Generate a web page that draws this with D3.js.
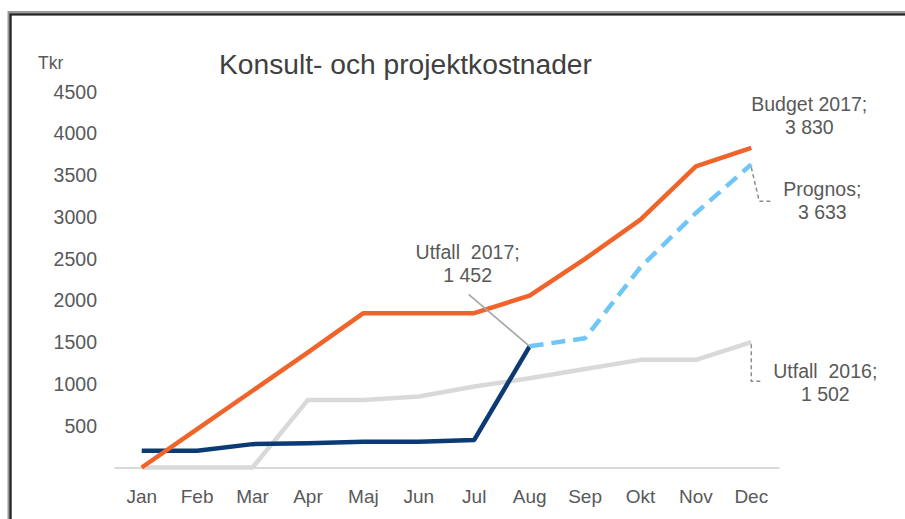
<!DOCTYPE html>
<html>
<head>
<meta charset="utf-8">
<script src="https://cdn.jsdelivr.net/npm/d3@7"></script>
<style>
  body { margin: 0; background: #fff; }
  svg { display: block; font-family: "Liberation Sans", Arial, sans-serif; }
  text { white-space: pre; }
</style>
</head>
<body>
<div id="chart"></div>
<script>
// data (Tkr)
const months = ['Jan', 'Feb', 'Mar', 'Apr', 'Maj', 'Jun', 'Jul', 'Aug', 'Sep', 'Okt', 'Nov', 'Dec'];
const utfall2016 = [0, 0, 0, 810, 810, 850, 970, 1070, 1180, 1290, 1290, 1502];
const budget2017 = [0, 460, 920, 1380, 1850, 1850, 1850, 2060, 2500, 2970, 3610, 3830];
const utfall2017 = [200, 200, 280, 290, 310, 310, 330, 1452];        // Jan..Aug
const prognos = [null, null, null, null, null, null, null, 1452, 1550, 2400, 3050, 3633];
const yTicks = [500, 1000, 1500, 2000, 2500, 3000, 3500, 4000, 4500];

const title = 'Konsult- och projektkostnader';
const unit = 'Tkr';

const width = 905;
const height = 519;

const svg = d3.select('#chart').append('svg')
  .attr('width', width)
  .attr('height', height);

// frame (cut off on the right and bottom like the screenshot)
svg.append('rect')
  .attr('x', 9.5).attr('y', 13)
  .attr('width', 1000).attr('height', 1000)
  .attr('fill', 'none')
  .attr('stroke', '#9a9a9a')
  .attr('stroke-width', 4);
svg.append('rect')
  .attr('x', 10.5).attr('y', 14.5)
  .attr('width', 1000).attr('height', 1000)
  .attr('fill', 'none')
  .attr('stroke', '#262626')
  .attr('stroke-width', 2.2);

// scales
const x = d3.scaleBand()
  .domain(months)
  .range([114, 779])
  .paddingInner(0)
  .paddingOuter(0);
const cx = (m) => x(m) + x.bandwidth() / 2;

const y = d3.scaleLinear()
  .domain([0, 4500])
  .range([467.5, 92]);

// title + unit
svg.append('text')
  .attr('x', 219).attr('y', 74)
  .attr('font-size', 28.2)
  .attr('fill', '#404040')
  .text(title);

svg.append('text')
  .attr('x', 38).attr('y', 69)
  .attr('font-size', 17.5)
  .attr('fill', '#595959')
  .text(unit);

// y axis (labels only)
const yAxis = svg.append('g')
  .attr('transform', 'translate(97,0)')
  .call(d3.axisLeft(y).tickValues(yTicks).tickSize(0).tickPadding(0).tickFormat(d3.format('d')));
yAxis.select('.domain').remove();
yAxis.selectAll('text')
  .attr('font-size', 19.5)
  .attr('font-family', '"Liberation Sans", Arial, sans-serif')
  .attr('fill', '#595959');

// x axis
const xAxis = svg.append('g')
  .attr('transform', `translate(0,${y(0)})`)
  .call(d3.axisBottom(x).tickSize(0).tickPadding(22));
xAxis.select('.domain')
  .attr('stroke', '#d9d9d9')
  .attr('stroke-width', 2);
xAxis.selectAll('text')
  .attr('font-size', 19)
  .attr('font-family', '"Liberation Sans", Arial, sans-serif')
  .attr('fill', '#595959');

// lines
const line = d3.line()
  .defined((d) => d != null)
  .x((d, i) => cx(months[i]))
  .y((d) => y(d));

function drawLine(values, color, dash) {
  svg.append('path')
    .datum(values)
    .attr('fill', 'none')
    .attr('stroke', color)
    .attr('stroke-width', 4.5)
    .attr('stroke-linejoin', 'round')
    .attr('stroke-dasharray', dash || null)
    .attr('d', line);
}

drawLine(utfall2016, '#d9d9d9');
drawLine(utfall2017, '#0b3a75');
drawLine(budget2017, '#f0642a');
drawLine(prognos, '#70c6f8', '14,8');

// data labels
function label(lines, px, py) {
  const t = svg.append('text')
    .attr('text-anchor', 'middle')
    .attr('font-size', 19.5)
    .attr('fill', '#595959');
  lines.forEach((s, i) => {
    t.append('tspan').attr('x', px).attr('y', py + i * 23).text(s);
  });
}
const fmt = (v) => d3.format(',')(v).replace(',', ' ');

const dec = cx('Dec');
const aug = cx('Aug');

// Budget 2017
label(['Budget 2017;', fmt(budget2017[11])], dec + 58, y(budget2017[11]) - 37);

// Prognos + leader
svg.append('path')
  .attr('d', `M${dec},${y(prognos[11]) + 3} L${dec + 8},${y(prognos[11]) + 37} L${dec + 20},${y(prognos[11]) + 37}`)
  .attr('fill', 'none')
  .attr('stroke', '#8c8c8c')
  .attr('stroke-width', 1.5)
  .attr('stroke-dasharray', '4,3');
label(['Prognos;', fmt(prognos[11])], dec + 71, y(prognos[11]) + 32);

// Utfall 2016 + leader
svg.append('path')
  .attr('d', `M${dec},${y(utfall2016[11]) + 2} L${dec},${y(utfall2016[11]) + 39} L${dec + 12},${y(utfall2016[11]) + 39}`)
  .attr('fill', 'none')
  .attr('stroke', '#8c8c8c')
  .attr('stroke-width', 1.5)
  .attr('stroke-dasharray', '4,3');
label(['Utfall  2016;', fmt(utfall2016[11])], dec + 74, y(utfall2016[11]) + 36);

// Utfall 2017 + leader
svg.append('line')
  .attr('x1', aug).attr('y1', y(utfall2017[7]))
  .attr('x2', aug - 61).attr('y2', y(utfall2017[7]) - 52)
  .attr('stroke', '#a6a6a6')
  .attr('stroke-width', 1.6);
label(['Utfall  2017;', fmt(utfall2017[7])], aug - 62, y(utfall2017[7]) - 87);
</script>
</body>
</html>
